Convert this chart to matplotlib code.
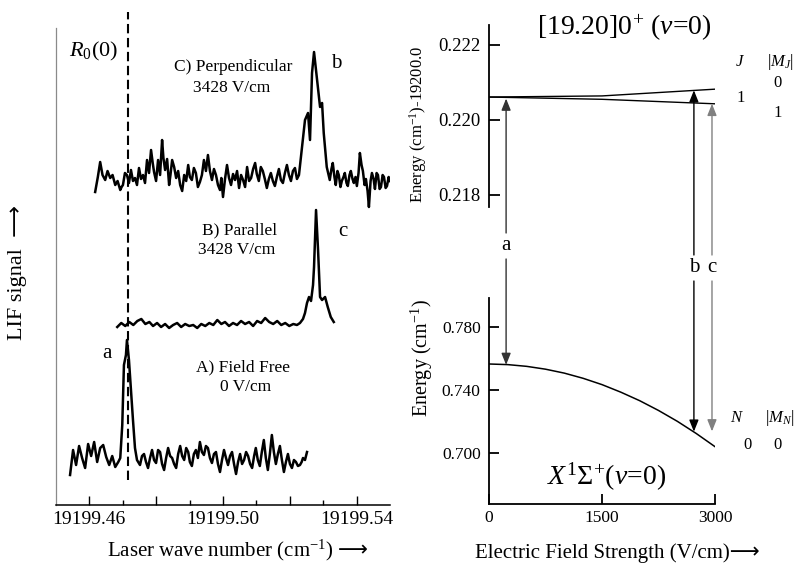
import numpy as np
import matplotlib
matplotlib.use('Agg')
import matplotlib.pyplot as plt
from matplotlib.ticker import FixedLocator, FixedFormatter

plt.rcParams['font.family'] = ['Liberation Serif', 'DejaVu Sans']
plt.rcParams['mathtext.fontset'] = 'custom'
plt.rcParams['mathtext.rm'] = 'Liberation Serif'
plt.rcParams['mathtext.it'] = 'Liberation Serif:italic'
plt.rcParams['mathtext.bf'] = 'Liberation Serif:bold'

# ---- LIF spectra: (wave number - 19199, signal in arb. units) ----
WN0 = 19199.0

# A) field free
a_pts = [
    (0.4543, -0.15), (0.4552, 0.10), (0.4561, -0.05), (0.4570, 0.14), (0.4579, 0.02),
    (0.4588, -0.08), (0.4597, 0.16), (0.4606, 0.04), (0.4615, 0.18), (0.4624, -0.02),
    (0.4633, 0.12), (0.4642, 0.15), (0.4651, 0.03), (0.4660, -0.05), (0.4669, 0.04),
    (0.4678, -0.07), (0.4687, -0.02), (0.4693, 0.02),
    (0.4699, 0.35), (0.4704, 0.95), (0.4710, 1.05), (0.4713, 1.20), (0.4719, 1.00),
    (0.4725, 0.70), (0.4731, 0.40), (0.4737, 0.12), (0.4743, 0.00),
    (0.4752, -0.05), (0.4758, 0.04), (0.4764, 0.06), (0.4770, -0.02), (0.4776, -0.08),
    (0.4782, 0.02), (0.4788, 0.10), (0.4794, 0.00), (0.4800, -0.03), (0.4806, 0.10),
    (0.4812, 0.08), (0.4818, -0.04), (0.4824, -0.10), (0.4830, 0.02), (0.4836, 0.12),
    (0.4842, 0.04), (0.4848, 0.02), (0.4854, -0.04), (0.4860, -0.08), (0.4866, 0.06),
    (0.4872, 0.14), (0.4878, 0.04), (0.4884, 0.00), (0.4890, 0.12), (0.4896, 0.08),
    (0.4901, -0.02), (0.4907, -0.06), (0.4913, 0.06), (0.4919, 0.10), (0.4925, 0.02),
    (0.4931, 0.18), (0.4937, 0.08), (0.4943, 0.05), (0.4949, 0.14), (0.4955, 0.12),
    (0.4961, 0.02), (0.4967, -0.03), (0.4973, 0.06), (0.4979, 0.08), (0.4985, -0.04),
    (0.4991, -0.12), (0.4997, 0.00), (0.5003, 0.10), (0.5009, 0.02), (0.5015, -0.05),
    (0.5021, 0.04), (0.5027, 0.08), (0.5033, -0.04), (0.5039, -0.14), (0.5045, -0.02),
    (0.5051, 0.06), (0.5057, -0.04), (0.5063, 0.00), (0.5069, 0.08), (0.5075, 0.04),
    (0.5081, -0.04), (0.5087, -0.08), (0.5093, 0.04), (0.5098, 0.12), (0.5104, 0.00),
    (0.5110, -0.06), (0.5116, 0.08), (0.5122, 0.20), (0.5128, 0.02), (0.5134, -0.10),
    (0.5140, 0.06), (0.5146, 0.25), (0.5152, 0.08), (0.5158, -0.04), (0.5164, 0.06),
    (0.5170, 0.14), (0.5176, 0.00), (0.5182, -0.12), (0.5188, -0.02), (0.5194, 0.06),
    (0.5200, -0.04), (0.5206, -0.08), (0.5212, 0.00), (0.5218, -0.02), (0.5224, -0.06),
    (0.5230, -0.05), (0.5235, -0.02), (0.5239, 0.02), (0.5245, 0.00), (0.5251, 0.08),
]

# B) parallel, 3428 V/cm
b_pts = [
    (0.4684, -0.02), (0.4696, 0.02), (0.4708, -0.01), (0.4720, 0.03), (0.4732, 0.00),
    (0.4744, 0.04), (0.4756, 0.06), (0.4768, 0.01), (0.4780, 0.03), (0.4791, -0.01),
    (0.4803, 0.02), (0.4815, -0.02), (0.4827, 0.01), (0.4839, -0.03), (0.4851, 0.00),
    (0.4863, 0.02), (0.4875, -0.02), (0.4887, 0.01), (0.4899, -0.01), (0.4911, 0.00),
    (0.4923, -0.03), (0.4935, 0.01), (0.4947, -0.01), (0.4959, 0.02), (0.4971, 0.00),
    (0.4983, 0.05), (0.4995, 0.01), (0.5006, 0.03), (0.5018, -0.01), (0.5030, 0.02),
    (0.5042, 0.00), (0.5054, 0.04), (0.5066, 0.01), (0.5078, 0.03), (0.5090, -0.01),
    (0.5102, 0.04), (0.5114, 0.02), (0.5126, 0.07), (0.5138, 0.03), (0.5150, 0.01),
    (0.5162, 0.04), (0.5174, 0.00), (0.5186, 0.02), (0.5198, -0.01), (0.5210, 0.01),
    (0.5221, 0.00),
    (0.5230, 0.02), (0.5239, 0.06), (0.5245, 0.12), (0.5251, 0.22), (0.5257, 0.28),
    (0.5263, 0.24), (0.5269, 0.40), (0.5272, 0.58), (0.5278, 1.15), (0.5284, 0.75),
    (0.5290, 0.28), (0.5296, 0.25), (0.5305, 0.28), (0.5313, 0.18), (0.5322, 0.08),
    (0.5331, 0.03),
]

# C) perpendicular, 3428 V/cm
c_pts = [
    (0.4618, -0.09), (0.4626, 0.06), (0.4633, 0.21), (0.4640, 0.08), (0.4648, 0.03),
    (0.4655, 0.12), (0.4663, 0.05), (0.4670, 0.08), (0.4678, -0.02), (0.4685, 0.02),
    (0.4693, -0.07), (0.4697, -0.04), (0.4701, -0.02), (0.4707, 0.10), (0.4713, 0.08),
    (0.4719, 0.00), (0.4725, 0.13), (0.4731, 0.02), (0.4737, 0.05), (0.4743, -0.02),
    (0.4749, 0.15), (0.4755, 0.04), (0.4761, 0.08), (0.4767, 0.00), (0.4773, 0.23),
    (0.4779, 0.10), (0.4785, 0.33), (0.4790, 0.20), (0.4794, 0.11), (0.4800, 0.02),
    (0.4806, 0.23), (0.4812, 0.08), (0.4818, 0.43), (0.4822, 0.25), (0.4827, 0.13),
    (0.4833, 0.24), (0.4839, -0.02), (0.4843, 0.08), (0.4848, 0.23), (0.4854, 0.16),
    (0.4860, 0.05), (0.4866, 0.12), (0.4872, -0.02), (0.4878, -0.08), (0.4884, 0.08),
    (0.4890, 0.02), (0.4896, 0.18), (0.4901, 0.06), (0.4907, 0.03), (0.4913, 0.15),
    (0.4919, 0.10), (0.4925, -0.04), (0.4931, 0.01), (0.4937, 0.08), (0.4943, 0.23),
    (0.4949, 0.12), (0.4955, 0.28), (0.4961, 0.12), (0.4967, 0.03), (0.4973, 0.14),
    (0.4979, 0.08), (0.4985, -0.02), (0.4991, -0.07), (0.4995, 0.05), (0.5000, -0.14),
    (0.5006, 0.04), (0.5012, 0.18), (0.5018, 0.05), (0.5024, -0.02), (0.5030, 0.09),
    (0.5036, 0.03), (0.5042, 0.12), (0.5048, -0.05), (0.5054, 0.08), (0.5060, 0.03),
    (0.5066, -0.04), (0.5072, 0.16), (0.5078, 0.02), (0.5084, 0.05), (0.5090, 0.14),
    (0.5096, 0.20), (0.5101, 0.09), (0.5107, 0.02), (0.5113, 0.16), (0.5119, 0.12),
    (0.5125, 0.04), (0.5131, -0.05), (0.5137, 0.04), (0.5143, 0.10), (0.5149, 0.02),
    (0.5155, -0.03), (0.5161, 0.06), (0.5167, 0.14), (0.5173, 0.03), (0.5179, 0.00),
    (0.5185, 0.10), (0.5191, 0.18), (0.5197, 0.08), (0.5203, 0.02), (0.5209, 0.12),
    (0.5215, 0.15), (0.5221, 0.04), (0.5227, 0.08),
    (0.5236, 0.36), (0.5245, 0.63), (0.5254, 0.70), (0.5260, 0.43), (0.5266, 1.10),
    (0.5272, 1.31), (0.5278, 1.13), (0.5284, 0.96), (0.5290, 0.76), (0.5296, 0.80),
    (0.5301, 0.50), (0.5310, 0.16),
    (0.5319, 0.03), (0.5324, 0.14), (0.5328, 0.20), (0.5333, 0.06), (0.5337, -0.02),
    (0.5342, 0.12), (0.5346, 0.08), (0.5351, -0.04), (0.5355, 0.02), (0.5360, 0.06),
    (0.5364, 0.10), (0.5369, 0.00), (0.5373, -0.03), (0.5378, 0.08), (0.5382, 0.12),
    (0.5387, 0.04), (0.5391, 0.00), (0.5396, 0.06), (0.5400, -0.03), (0.5405, 0.10),
    (0.5409, 0.30), (0.5414, 0.18), (0.5418, 0.12), (0.5423, -0.02), (0.5427, 0.04),
    (0.5432, -0.08), (0.5436, -0.24), (0.5441, 0.02), (0.5445, 0.10), (0.5450, 0.04),
    (0.5454, -0.06), (0.5459, 0.10), (0.5463, 0.08), (0.5468, -0.06), (0.5472, -0.04),
    (0.5477, 0.08), (0.5481, 0.06), (0.5486, -0.05), (0.5490, -0.03), (0.5495, 0.06),
    (0.5499, 0.02),
]

spec_offsets = [0.45, 1.80, 3.22]
r00_line = 0.4717

# ---- Stark energy levels ----
field_x = [0, 250, 500, 750, 1000, 1250, 1500, 1750, 2000, 2250, 2500, 2750, 3000]
energy_x = [0.7565, 0.7561, 0.7550, 0.7532, 0.7507, 0.7474, 0.7434, 0.7386,
            0.7332, 0.7270, 0.7201, 0.7124, 0.7040]
field_up = [0, 1500, 3000]
energy_mj0 = [0.22061, 0.22064, 0.22082]
energy_mj1 = [0.22061, 0.22055, 0.22043]

trans_names = ['a', 'b', 'c']
trans_field = [227, 2720, 2960]
trans_upper = [0.22057, 0.22079, 0.22043]
trans_lower = [0.7559, 0.7135, 0.7137]
trans_colors = ['#333333', '#000000', '#808080']
trans_gap = [(233, 246, 259), (255, 268, 281), (255, 268, 281)]  # pixel rows of label gap


def fp(x, y):
    return x / 800, 1 - y / 563


fig = plt.figure(figsize=(8, 5.63), dpi=100)

# ---------------- left: spectra ----------------
ax = fig.add_axes([56 / 800, 1 - 505 / 563, 334 / 800, 477 / 563])
for pts, off in zip([a_pts, b_pts, c_pts], spec_offsets):
    xs, ys = np.array(pts).T
    ax.plot(WN0 + xs, off + ys, color='black', lw=1.8)
ax.plot([WN0 + r00_line] * 2, [0.25, 4.93], color='black', lw=1.5,
        ls=(0, (4.5, 2.2)), clip_on=False)
ax.set_xlim(19199.4501, 19199.5499)
ax.set_ylim(0, 4.77)
ax.set_yticks([])
for s in ['top', 'right']:
    ax.spines[s].set_visible(False)
ax.spines['left'].set_color('#8a8a8a')
ax.spines['left'].set_linewidth(0.9)
ax.spines['bottom'].set_linewidth(1.1)
ax.xaxis.set_major_locator(FixedLocator([19199.46, 19199.48, 19199.50, 19199.52, 19199.54]))
ax.xaxis.set_major_formatter(FixedFormatter(['19199.46', '', '19199.50', '', '19199.54']))
ax.xaxis.set_minor_locator(FixedLocator([19199.47, 19199.49, 19199.51, 19199.53]))
ax.tick_params(axis='x', which='major', direction='in', length=6.5, width=1,
               labelsize=14, pad=4)
ax.tick_params(axis='x', which='minor', direction='in', length=3.3, width=1)

fig.text(*fp(118, 51), r'$R_0$(0)', fontsize=16, ha='right', va='center')
fig.text(*fp(233, 67), 'C) Perpendicular', fontsize=12.5, ha='center', va='center')
fig.text(*fp(232, 88), '3428 V/cm', fontsize=12.5, ha='center', va='center')
fig.text(*fp(336, 63), 'b', fontsize=15, ha='center', va='center')
fig.text(*fp(240, 230), 'B) Parallel', fontsize=12.5, ha='center', va='center')
fig.text(*fp(237, 250), '3428 V/cm', fontsize=12.5, ha='center', va='center')
fig.text(*fp(343, 232), 'c', fontsize=15, ha='center', va='center')
fig.text(*fp(107, 353), 'a', fontsize=15, ha='center', va='center')
fig.text(*fp(243, 367), 'A) Field Free', fontsize=12.5, ha='center', va='center')
fig.text(*fp(246, 387), '0 V/cm', fontsize=12.5, ha='center', va='center')
fig.text(*fp(333, 550), 'Laser wave number (cm$^{-1}$)', fontsize=15,
         ha='right', va='center')
fig.text(*fp(338, 552), '\u27f6', fontsize=15, ha='left', va='center')
fig.text(*fp(18, 272), 'LIF signal  \u27f6', fontsize=16, ha='center', va='center',
         rotation=90)

# ---------------- right top: [19.20]0+ ----------------
axu = fig.add_axes([489 / 800, 1 - 207 / 563, 226 / 800, 182 / 563])
axu.plot(field_up, energy_mj0, color='black', lw=1.0)
axu.plot(field_up, energy_mj1, color='black', lw=1.0)
axu.set_xlim(0, 3000)
axu.set_ylim(0.21768, 0.22253)
for s in ['top', 'right', 'bottom']:
    axu.spines[s].set_visible(False)
axu.spines['left'].set_linewidth(1.3)
axu.set_yticks([0.218, 0.220, 0.222])
axu.set_yticklabels(['0.218', '0.220', '0.222'])
axu.tick_params(axis='y', direction='in', length=8, width=1.3, labelsize=13.5, pad=6)
axu.tick_params(axis='x', bottom=False, labelbottom=False)

# ---------------- right bottom: X state ----------------
axd = fig.add_axes([489 / 800, 1 - 504 / 563, 226 / 800, 206 / 563])
axd.plot(field_x, energy_x, color='black', lw=1.1)
axd.set_xlim(0, 3000)
axd.set_ylim(0.6676, 0.7984)
for s in ['top', 'right']:
    axd.spines[s].set_visible(False)
axd.spines['left'].set_linewidth(1.3)
axd.spines['bottom'].set_linewidth(1.3)
axd.set_yticks([0.700, 0.740, 0.780])
axd.set_yticklabels(['0.700', '0.740', '0.780'])
axd.set_xticks([0, 1500, 3000])
axd.set_xticklabels(['0', '1500', '3000'])
axd.tick_params(direction='in', length=7, width=1.3, labelsize=12.5, pad=6)
axd.tick_params(axis='x', pad=4)

# transitions between the two panels
for name, f, eu, el, col, gap in zip(trans_names, trans_field, trans_upper,
                                     trans_lower, trans_colors, trans_gap):
    props = dict(arrowstyle='-|>,head_length=0.7,head_width=0.28', lw=1.0,
                 color=col, shrinkA=0, shrinkB=0)
    axu.annotate('', xy=(f, eu), xycoords='data', xytext=(f, 1 - gap[0] / 563),
                 textcoords=('data', 'figure fraction'), arrowprops=props,
                 annotation_clip=False)
    axd.annotate('', xy=(f, el), xycoords='data', xytext=(f, 1 - gap[2] / 563),
                 textcoords=('data', 'figure fraction'), arrowprops=props,
                 annotation_clip=False)
    axu.annotate(name, xy=(f, 1 - gap[1] / 563), xycoords=('data', 'figure fraction'),
                 fontsize=15, ha='center', va='center', annotation_clip=False)

fig.text(*fp(624, 28), r'[19.20]0$^{+}$ ($v$=0)', fontsize=20, ha='center', va='center')
fig.text(*fp(607, 477), r'$X^{1}\Sigma^{+}$($v$=0)', fontsize=20, ha='center', va='center')
fig.text(*fp(740, 62), r'$J$', fontsize=12, ha='center', va='center')
fig.text(*fp(780, 62), r'$|M_J|$', fontsize=12, ha='center', va='center')
fig.text(*fp(778, 83), '0', fontsize=12, ha='center', va='center')
fig.text(*fp(741, 98), '1', fontsize=12, ha='center', va='center')
fig.text(*fp(778, 113), '1', fontsize=12, ha='center', va='center')
fig.text(*fp(737, 418), r'$N$', fontsize=12, ha='center', va='center')
fig.text(*fp(780, 418), r'$|M_N|$', fontsize=12, ha='center', va='center')
fig.text(*fp(748, 445), '0', fontsize=12, ha='center', va='center')
fig.text(*fp(778, 445), '0', fontsize=12, ha='center', va='center')
fig.text(*fp(418, 124), 'Energy (cm$^{-1}$)-19200.0', fontsize=12, ha='center',
         va='center', rotation=90)
fig.text(*fp(422, 358), 'Energy (cm$^{-1}$)', fontsize=14.5, ha='center',
         va='center', rotation=90)
fig.text(*fp(617, 553), 'Electric Field Strength (V/cm)\u27f6', fontsize=15,
         ha='center', va='center')

fig.savefig('out.png', dpi=100)
